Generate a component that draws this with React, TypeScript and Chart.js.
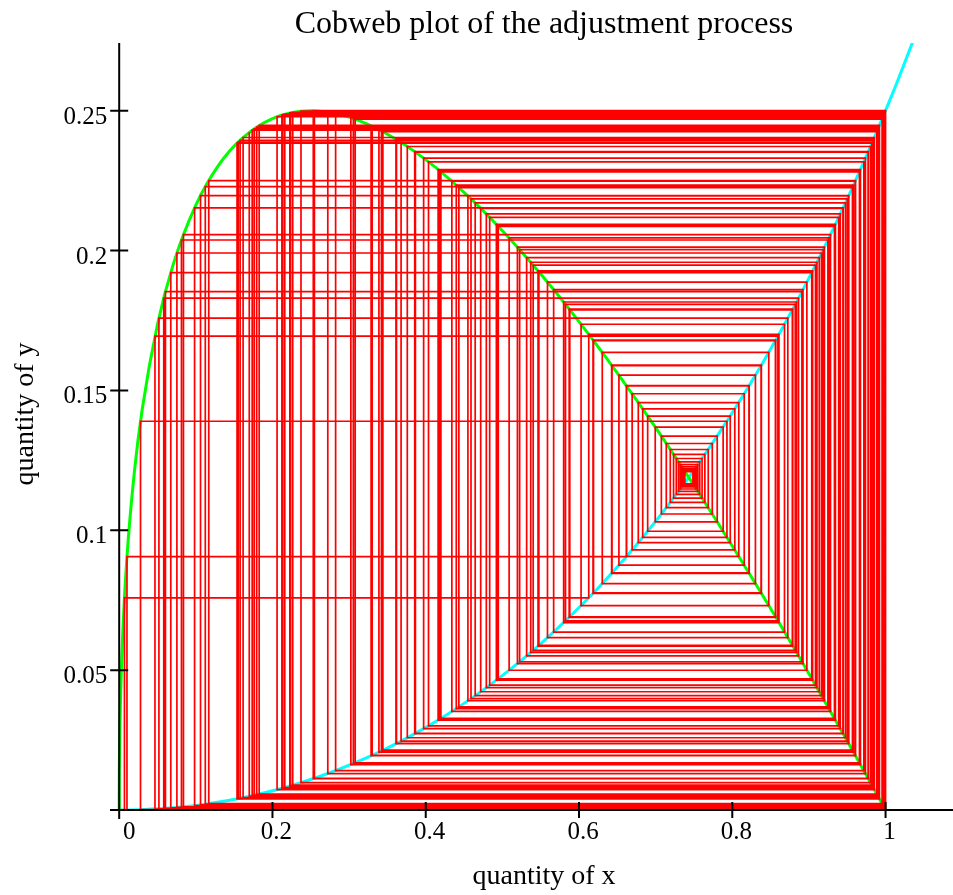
import React, { useEffect, useRef } from 'react';
import { Chart, registerables } from 'chart.js';

Chart.register(...registerables);

// ---------- text ----------
const chartTitle = 'Cobweb plot of the adjustment process';
const xAxisTitle = 'quantity of x';
const yAxisTitle = 'quantity of y';

// ---------- ticks ----------
const xTickValues = [0, 0.2, 0.4, 0.6, 0.8, 1];
const xTickLabels = ['0', '0.2', '0.4', '0.6', '0.8', '1'];
const yTickValues = [0.05, 0.1, 0.15, 0.2, 0.25];
const yTickLabels = ['0.05', '0.1', '0.15', '0.2', '0.25'];

// ---------- axis ranges ----------
const xMin = -0.012;
const xMax = 1.088;
const yMin = 0;
const yMax = 0.2742;

// ---------- green curve (reaction of y to x) ----------
const greenX = [0, 0.0001, 0.0005, 0.001, 0.002, 0.005, 0.01, 0.02, 0.03, 0.05, 0.07, 0.1, 0.13, 0.16, 0.2, 0.25, 0.3, 0.35, 0.4, 0.45, 0.5, 0.55, 0.6, 0.65, 0.7, 0.75, 0.8, 0.85, 0.9, 0.95, 1.0];
const greenY = [0, 0.0099, 0.0219, 0.0306, 0.0427, 0.0657, 0.09, 0.1214, 0.1432, 0.1736, 0.1946, 0.2162, 0.2306, 0.24, 0.2472, 0.25, 0.2477, 0.2416, 0.2325, 0.2208, 0.2071, 0.1916, 0.1746, 0.1562, 0.1367, 0.116, 0.0944, 0.072, 0.0487, 0.0247, 0];

// ---------- cyan curve (reaction of x to y) ----------
const cyanX = [0, 0.0249, 0.0554, 0.1098, 0.1718, 0.24, 0.3336, 0.403, 0.46, 0.509, 0.5524, 0.6271, 0.6906, 0.746, 0.7954, 0.84, 0.8807, 0.918, 0.9526, 0.9847, 1.0, 1.0148, 1.036, 1.0463];
const cyanY = [0, 0.0001, 0.0005, 0.002, 0.005, 0.01, 0.02, 0.03, 0.04, 0.05, 0.06, 0.08, 0.1, 0.12, 0.14, 0.16, 0.18, 0.2, 0.22, 0.24, 0.25, 0.26, 0.275, 0.2825];

// ---------- cobweb trajectory (x quantity, and y quantity on the green curve) ----------
const cobwebStartY = 0.11699;
const cobwebX = [
  0.73816, 0.74863, 0.73708, 0.7498, 0.73576, 0.75122, 0.73415, 0.75294, 0.7322, 0.75503,
  0.72981, 0.75755, 0.72692, 0.76058, 0.72339, 0.76424, 0.7191, 0.76862, 0.71388, 0.77389,
  0.70743, 0.78033, 0.69944, 0.78807, 0.68958, 0.79736, 0.67735, 0.80848, 0.66214, 0.82175,
  0.64306, 0.83755, 0.61891, 0.85628, 0.58797, 0.87836, 0.54762, 0.90417, 0.49359, 0.93386,
  0.41822, 0.96651, 0.30553, 0.99581, 0.11233, 0.95729, 0.34221, 0.98903, 0.17941, 0.99115,
  0.16168, 0.98539, 0.20601, 0.9968, 0.09837, 0.94466, 0.38562, 0.97749, 0.25326, 0.99999,
  0.00684, 0.6127, 0.86088, 0.57994, 0.88376, 0.53699, 0.91044, 0.47906, 0.94094, 0.39726,
  0.97379, 0.2722, 0.99929, 0.04668, 0.85952, 0.58235, 0.88216, 0.54019, 0.90858, 0.48344,
  0.93884, 0.40361, 0.97167, 0.28241, 0.99852, 0.06731, 0.90369, 0.49467, 0.93332, 0.41977,
  0.96594, 0.30794, 0.99545, 0.11687, 0.96084, 0.32869, 0.99187, 0.15522, 0.98282, 0.22267,
  0.99881, 0.06034, 0.89086, 0.52252, 0.91863, 0.45905, 0.95007, 0.36782, 0.98266, 0.22363,
  0.9989, 0.05813, 0.88641, 0.53166, 0.91351, 0.47171, 0.94438, 0.38652, 0.97722, 0.25473,
  0.99997, 0.01014, 0.66175, 0.82208, 0.64257, 0.83795, 0.61829, 0.85674, 0.58717, 0.8789,
  0.54657, 0.90481, 0.49216, 0.93458, 0.41616, 0.96726, 0.3023, 0.99626, 0.10613, 0.95201,
  0.36116, 0.98444, 0.21231, 0.99769, 0.08384, 0.92818, 0.43408, 0.96048, 0.33011, 0.99159,
  0.15778, 0.98387, 0.21604, 0.99814, 0.07531, 0.91645, 0.46452, 0.94765, 0.37593, 0.98038,
  0.23722, 0.99975, 0.02783, 0.79303, 0.68311, 0.80329, 0.66932, 0.81557, 0.65207, 0.8302,
  0.63034, 0.84758, 0.60268, 0.86812, 0.56691, 0.89224, 0.51963, 0.92023, 0.45503, 0.95182,
  0.36183, 0.98427, 0.21347, 0.99783, 0.08123, 0.92476, 0.44324, 0.95679, 0.34407, 0.98862,
  0.18266, 0.99202, 0.15378, 0.9822, 0.22645, 0.99913, 0.05183, 0.87246, 0.55886, 0.89731,
  0.50881, 0.92604, 0.43984, 0.95817, 0.33892, 0.98976, 0.17355, 0.98944, 0.17614, 0.99022,
  0.16973,
];
const cobwebY = [
  0.12099, 0.11659, 0.12144, 0.11609, 0.12199, 0.11549, 0.12266, 0.11476, 0.12347, 0.11388,
  0.12446, 0.11281, 0.12566, 0.11151, 0.12712, 0.10995, 0.12888, 0.10807, 0.13103, 0.10582,
  0.13366, 0.10303, 0.13689, 0.09966, 0.14083, 0.09559, 0.14566, 0.09068, 0.15158, 0.08475,
  0.15885, 0.07763, 0.1678, 0.06907, 0.17882, 0.05885, 0.19239, 0.04671, 0.20897, 0.0325,
  0.22848, 0.0166, 0.24722, 0.0021, 0.22283, 0.02112, 0.24278, 0.00547, 0.24416, 0.00441,
  0.24042, 0.00728, 0.24787, 0.0016, 0.21527, 0.02728, 0.23536, 0.01119, 0.24999, 0.00001,
  0.07586, 0.17005, 0.06696, 0.1816, 0.05632, 0.19581, 0.04373, 0.21308, 0.02908, 0.23303,
  0.01302, 0.24953, 0.00035, 0.16938, 0.06759, 0.18077, 0.05708, 0.19479, 0.04462, 0.21186,
  0.0301, 0.23169, 0.01406, 0.24901, 0.00074, 0.19213, 0.04693, 0.20866, 0.03277, 0.22813,
  0.01688, 0.24698, 0.00227, 0.22499, 0.01939, 0.24463, 0.00406, 0.23876, 0.00855, 0.24921,
  0.00059, 0.1853, 0.053, 0.20033, 0.03982, 0.21848, 0.02465, 0.23866, 0.00863, 0.24927,
  0.00055, 0.18297, 0.05508, 0.19749, 0.04227, 0.2151, 0.02741, 0.23519, 0.01133, 0.24998,
  0.00002, 0.09055, 0.15173, 0.08461, 0.15904, 0.07745, 0.16802, 0.06886, 0.1791, 0.0586,
  0.19274, 0.04641, 0.20938, 0.03216, 0.22895, 0.01623, 0.24752, 0.00187, 0.21965, 0.0237,
  0.23981, 0.00775, 0.24846, 0.00116, 0.20571, 0.03524, 0.22477, 0.01956, 0.24444, 0.0042,
  0.23944, 0.00803, 0.24876, 0.00093, 0.19912, 0.04087, 0.21704, 0.02583, 0.2372, 0.00976,
  0.24983, 0.00013, 0.13898, 0.09749, 0.1434, 0.09297, 0.1488, 0.08752, 0.15544, 0.08095,
  0.1636, 0.07306, 0.17365, 0.06361, 0.18603, 0.05235, 0.20122, 0.03906, 0.21953, 0.02379,
  0.23969, 0.00784, 0.24856, 0.00108, 0.20378, 0.03688, 0.22252, 0.02137, 0.24251, 0.00568,
  0.24473, 0.00398, 0.23837, 0.00886, 0.24942, 0.00044, 0.17583, 0.06159, 0.18871, 0.04996,
  0.2045, 0.03627, 0.22336, 0.02069, 0.24325, 0.00511, 0.24304, 0.00527, 0.24355, 0.00488,
  0.24225,
];

const SERIF = '"Liberation Serif", "Times New Roman", Times, serif';

const zip = (xs: number[], ys: number[]) => xs.map((x, i) => ({ x, y: ys[i] }));

const axesPlugin = {
  id: 'crossAxes',
  afterDatasetsDraw(chart: any) {
    const { ctx, chartArea: a } = chart;
    const xs = chart.scales.x;
    const ys = chart.scales.y;
    const ox = xs.getPixelForValue(0);
    const oy = ys.getPixelForValue(0);
    ctx.save();
    ctx.strokeStyle = '#000';
    ctx.lineWidth = 2;
    ctx.beginPath();
    ctx.moveTo(ox, a.top);
    ctx.lineTo(ox, oy + 1);
    ctx.moveTo(a.left, oy);
    ctx.lineTo(a.right, oy);
    yTickValues.forEach((v) => {
      const p = ys.getPixelForValue(v);
      ctx.moveTo(ox - 9, p);
      ctx.lineTo(ox + 9, p);
    });
    xTickValues.forEach((v) => {
      const p = xs.getPixelForValue(v);
      if (v === 0) {
        ctx.moveTo(p, oy);
        ctx.lineTo(p, oy + 9);
      } else {
        ctx.moveTo(p, oy - 8);
        ctx.lineTo(p, oy + 8);
      }
    });
    ctx.stroke();

    ctx.fillStyle = '#000';
    ctx.font = `25px ${SERIF}`;
    ctx.textAlign = 'right';
    ctx.textBaseline = 'alphabetic';
    yTickValues.forEach((v, i) => {
      ctx.fillText(yTickLabels[i], ox - 12, ys.getPixelForValue(v) + 13);
    });
    ctx.textAlign = 'center';
    xTickValues.forEach((v, i) => {
      ctx.fillText(xTickLabels[i], xs.getPixelForValue(v) + (v === 0 ? 10 : 4), oy + 29);
    });

    ctx.font = `32px ${SERIF}`;
    ctx.fillText(chartTitle, 544, 33);
    ctx.font = `28px ${SERIF}`;
    ctx.fillText(xAxisTitle, 544, 884);
    ctx.translate(33, 414);
    ctx.rotate(-Math.PI / 2);
    ctx.fillText(yAxisTitle, 0, 0);
    ctx.restore();
  },
};

export default function App() {
  const ref = useRef<HTMLCanvasElement>(null);

  useEffect(() => {
    const canvas = ref.current;
    if (!canvas) return;
    const cobwebPoints = [{ x: cobwebX[0], y: cobwebStartY }, ...zip(cobwebX, cobwebY)];
    const chart = new Chart(canvas, {
      type: 'line',
      data: {
        datasets: [
          {
            label: 'cobweb',
            data: cobwebPoints,
            borderColor: '#ff0000',
            borderWidth: 1.7,
            stepped: 'before',
            pointRadius: 0,
            fill: false,
          },
          {
            label: 'green',
            data: zip(greenX, greenY),
            borderColor: '#00ff00',
            borderWidth: 3,
            cubicInterpolationMode: 'monotone',
            pointRadius: 0,
            fill: false,
          },
          {
            label: 'cyan',
            data: zip(cyanX, cyanY),
            borderColor: '#00ffff',
            borderWidth: 3,
            cubicInterpolationMode: 'monotone',
            pointRadius: 0,
            fill: false,
          },
        ],
      },
      options: {
        responsive: false,
        maintainAspectRatio: false,
        animation: false,
        devicePixelRatio: 1,
        events: [],
        layout: { padding: { left: 110, right: 0, top: 43, bottom: 85 } },
        plugins: {
          legend: { display: false },
          tooltip: { enabled: false },
          title: { display: false },
        },
        scales: {
          x: { type: 'linear', min: xMin, max: xMax, display: false },
          y: { type: 'linear', min: yMin, max: yMax, display: false },
        },
      },
      plugins: [axesPlugin],
    } as any);
    return () => chart.destroy();
  }, []);

  return (
    <div style={{ position: 'absolute', left: 0, top: 0, width: 953, height: 895, background: '#ffffff' }}>
      <canvas ref={ref} width={953} height={895} style={{ display: 'block', width: 953, height: 895 }} />
    </div>
  );
}
